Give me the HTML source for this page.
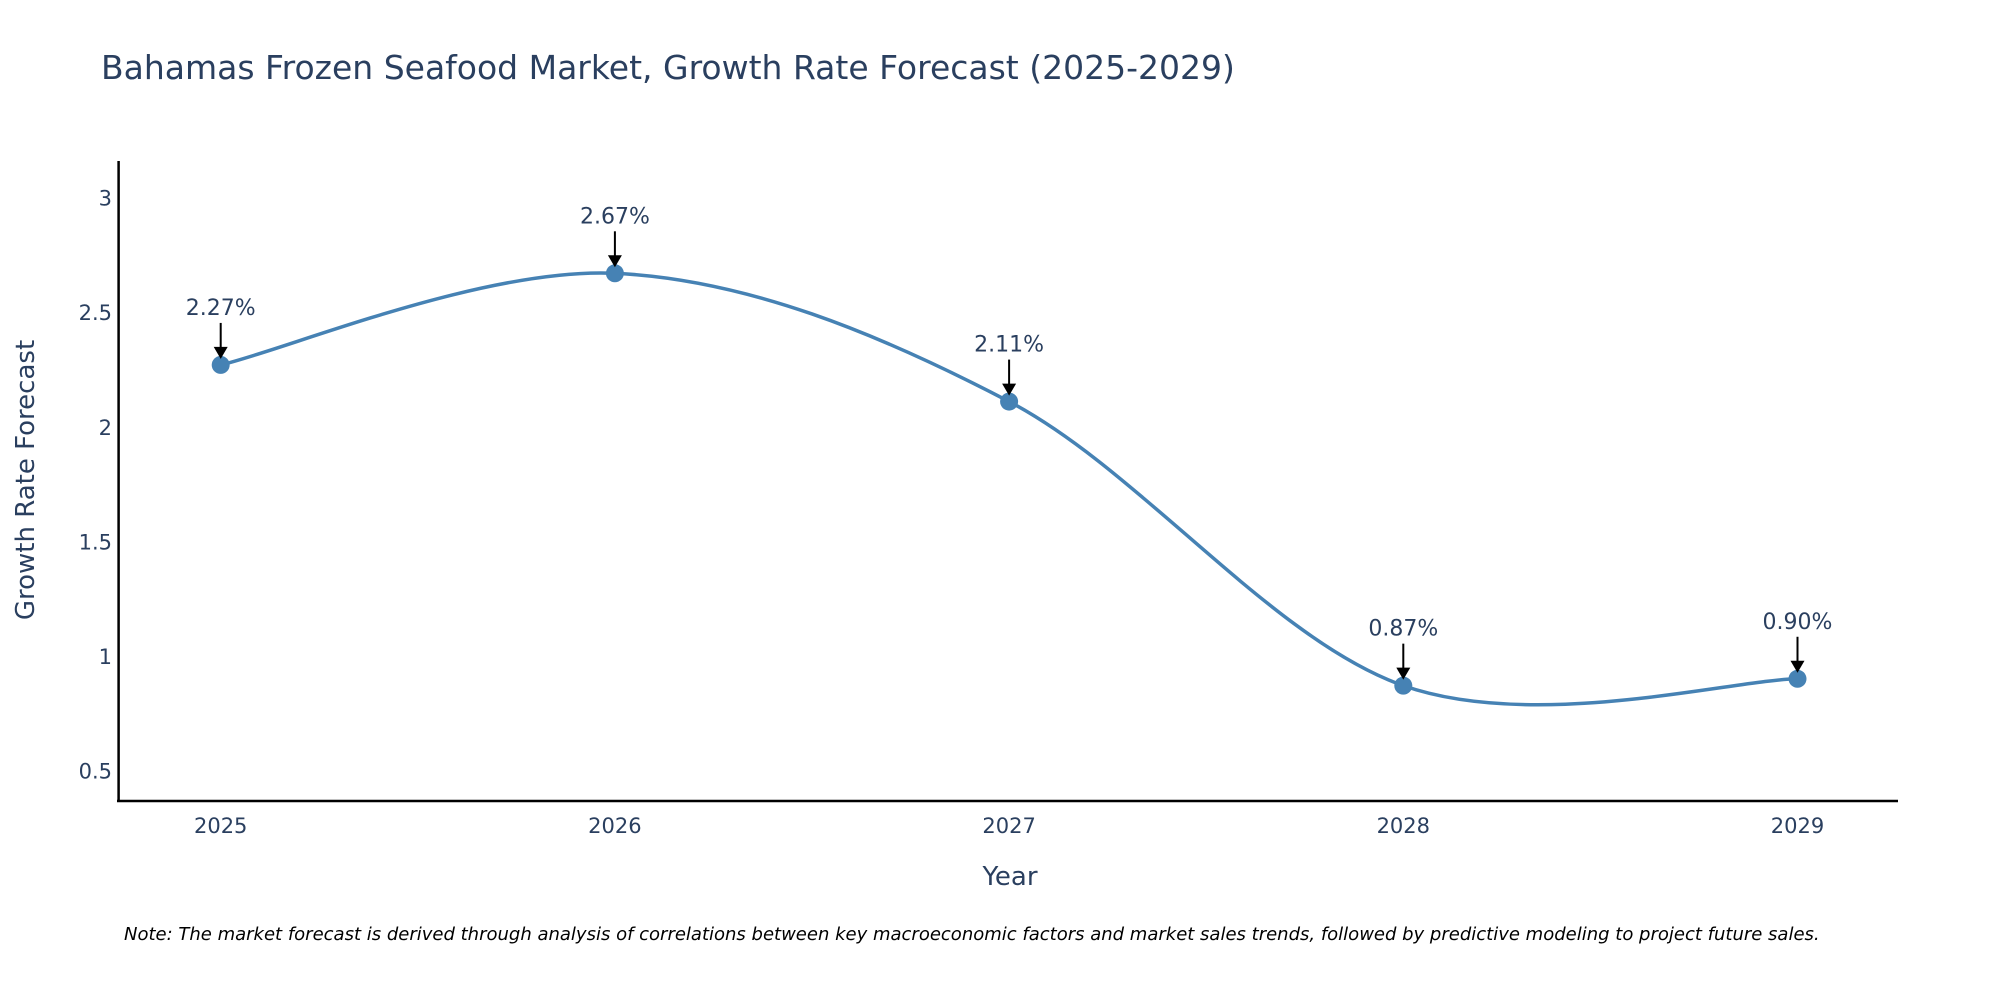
<!DOCTYPE html>
<html><head><meta charset="utf-8"><style>
body{margin:0;background:#fff;}
svg text{font-family:"DejaVu Sans","Liberation Sans",sans-serif;}
</style></head><body>
<svg id="chart" width="2000" height="1000">
<text x="101" y="79" font-size="33" fill="#2a3f5f">Bahamas Frozen Seafood Market, Growth Rate Forecast (2025-2029)</text>
<line x1="118.6" y1="161" x2="118.6" y2="802" stroke="#000" stroke-width="2.5"/>
<line x1="117" y1="801" x2="1898" y2="801" stroke="#000" stroke-width="2.5"/>
<text x="1010" y="885" font-size="26" fill="#2a3f5f" text-anchor="middle">Year</text>
<text transform="translate(34,480) rotate(-90)" font-size="26" fill="#2a3f5f" text-anchor="middle">Growth Rate Forecast</text>
<text x="124" y="940" font-size="18" font-style="italic" fill="#000">Note: The market forecast is derived through analysis of correlations between key macroeconomic factors and market sales trends, followed by predictive modeling to project future sales.</text>
<g id="plot"></g>
</svg>
<script>
const years = ["2025","2026","2027","2028","2029"];
const values = [2.27, 2.67, 2.11, 0.87, 0.90];
const labels = ["2.27%","2.67%","2.11%","0.87%","0.90%"];
const yTicks = [0.5, 1, 1.5, 2, 2.5, 3];
const yTickLabels = ["0.5","1","1.5","2","2.5","3"];

const NS="http://www.w3.org/2000/svg";
const xS=i=>220.7+i*394.2;
const yS=v=>770.4-(v-0.5)*(572.7/2.5);
const svg=document.getElementById('chart');
const plot=document.getElementById('plot');
function mk(t,a,p){const e=document.createElementNS(NS,t);for(const k in a)e.setAttribute(k,a[k]);(p||plot).appendChild(e);return e;}

yTicks.forEach((v,i)=>{
  const t=mk('text',{x:112,y:yS(v)+8,'font-size':21,fill:'#2a3f5f','text-anchor':'end'},svg);
  
  
  t.textContent=yTickLabels[i];
});
years.forEach((y,i)=>{
  const t=mk('text',{x:xS(i),y:833,'font-size':21,fill:'#2a3f5f','text-anchor':'middle'},svg);
  
  
  t.textContent=y;
});

const pts=values.map((v,i)=>[xS(i),yS(v)]);
let d=`M${pts[0][0]},${pts[0][1]}`;
const s=1/6;
for(let i=0;i<pts.length-1;i++){
  const p0=pts[Math.max(0,i-1)],p1=pts[i],p2=pts[i+1],p3=pts[Math.min(pts.length-1,i+2)];
  const c1=[p1[0]+(p2[0]-p0[0])*s,p1[1]+(p2[1]-p0[1])*s];
  const c2=[p2[0]-(p3[0]-p1[0])*s,p2[1]-(p3[1]-p1[1])*s];
  d+=` C${c1[0]},${c1[1]} ${c2[0]},${c2[1]} ${p2[0]},${p2[1]}`;
}
const line=mk('path',{d:d,fill:'none',stroke:'#4682B4','stroke-width':3.5});



pts.forEach((p,i)=>{
  const c=mk('circle',{cx:p[0],cy:p[1],r:9,fill:'#4682B4'});
  
  
  const l=mk('line',{x1:p[0],y1:p[1]-42,x2:p[0],y2:p[1]-16,stroke:'#000','stroke-width':2});
  
  
  const a=mk('path',{d:`M${p[0]-7},${p[1]-18} L${p[0]+7},${p[1]-18} L${p[0]},${p[1]-6} Z`,fill:'#000'});
  
  
  const t=mk('text',{x:p[0],y:p[1]-50,'font-size':22,fill:'#2a3f5f','text-anchor':'middle'});
  
  
  t.textContent=labels[i];
});
</script>
</body></html>
